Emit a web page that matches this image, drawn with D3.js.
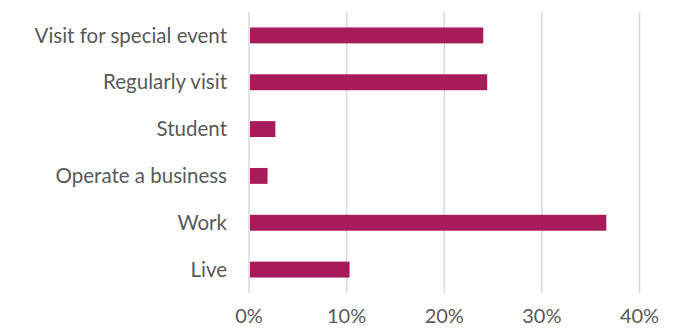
<!DOCTYPE html>
<html>
<head>
<meta charset="utf-8">
<script src="https://cdn.jsdelivr.net/npm/d3@7"></script>
<style>
  body { margin: 0; background: #fff; }
  text { font-family: Lato, "Open Sans", sans-serif; fill: #595959; }
</style>
</head>
<body>
<div id="chart"></div>
<script>
const categories = ["Visit for special event", "Regularly visit", "Student", "Operate a business", "Work", "Live"];
const values = [0.240, 0.244, 0.027, 0.019, 0.366, 0.103];
const ticks = [0, 0.1, 0.2, 0.3, 0.4];

const width = 693, height = 333;
const margin = {top: 12, right: 56, bottom: 40, left: 249};

const svg = d3.select("#chart")
  .append("svg")
  .attr("width", width)
  .attr("height", height);

const x = d3.scaleLinear()
  .domain([0, 0.4])
  .range([margin.left, 639.5]);

const y = d3.scaleBand()
  .domain(categories)
  .range([margin.top, height - margin.bottom])
  .paddingInner(0.66)
  .paddingOuter(0.33);

// gridlines
svg.append("g")
  .selectAll("line")
  .data(ticks)
  .join("line")
  .attr("x1", d => x(d))
  .attr("x2", d => x(d))
  .attr("y1", margin.top)
  .attr("y2", height - margin.bottom)
  .attr("stroke", "#d9d9d9")
  .attr("stroke-width", 1.5);

// bars
svg.append("g")
  .selectAll("rect")
  .data(values)
  .join("rect")
  .attr("x", x(0) + 1)
  .attr("y", (d, i) => y(categories[i]))
  .attr("width", d => x(d) - x(0) - 1)
  .attr("height", y.bandwidth())
  .attr("fill", "#a81b5b");

// category labels
svg.append("g")
  .selectAll("text")
  .data(categories)
  .join("text")
  .attr("x", 227)
  .attr("y", d => y(d) + y.bandwidth() / 2)
  .attr("dy", "0.35em")
  .attr("text-anchor", "end")
  .style("font-size", "20.5px")
  .text(d => d);

// x tick labels
svg.append("g")
  .selectAll("text")
  .data(ticks)
  .join("text")
  .attr("x", d => x(d))
  .attr("y", 323)
  .attr("text-anchor", "middle")
  .style("font-size", "20px")
  .text(d => d3.format(".0%")(d));
</script>
</body>
</html>
